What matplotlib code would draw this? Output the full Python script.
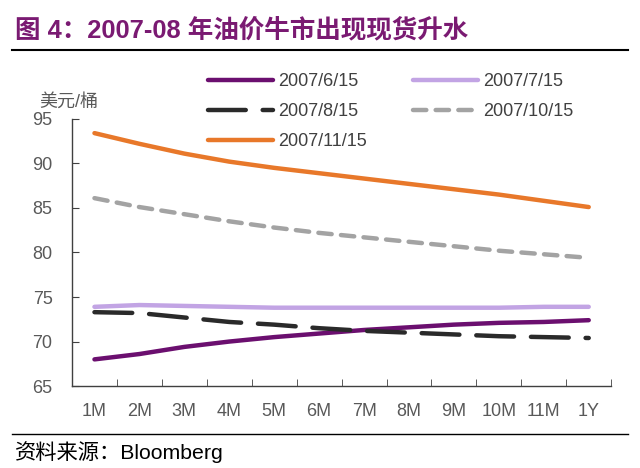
import matplotlib
matplotlib.use("Agg")
import matplotlib.pyplot as plt
from matplotlib.lines import Line2D

plt.rcParams['font.family'] = ['Liberation Sans', 'Noto Sans CJK SC', 'DejaVu Sans']

categories = ["1M", "2M", "3M", "4M", "5M", "6M", "7M", "8M", "9M", "10M", "11M", "1Y"]
s_0615 = [68.0, 68.6, 69.4, 70.0, 70.5, 70.9, 71.3, 71.6, 71.9, 72.1, 72.2, 72.4]
s_0715 = [73.9, 74.1, 74.0, 73.9, 73.8, 73.8, 73.8, 73.8, 73.8, 73.8, 73.9, 73.9]
s_0815 = [73.3, 73.2, 72.7, 72.2, 71.9, 71.5, 71.2, 71.0, 70.8, 70.6, 70.5, 70.4]
s_1015 = [86.1, 85.1, 84.3, 83.5, 82.8, 82.2, 81.7, 81.2, 80.7, 80.2, 79.8, 79.4]
s_1115 = [93.4, 92.2, 91.1, 90.2, 89.5, 88.9, 88.3, 87.7, 87.1, 86.5, 85.8, 85.1]
labels = ["2007/6/15", "2007/7/15", "2007/8/15", "2007/10/15", "2007/11/15"]

fig = plt.figure(figsize=(6.4, 4.68), dpi=100)
ax = fig.add_axes([0.1125, 0.175, 0.955 - 0.1125, 0.746 - 0.175])

x = list(range(len(categories)))
lw = 3.2
l1, = ax.plot(x, s_0615, color="#6B0F6F", lw=lw, solid_capstyle="round")
l2, = ax.plot(x, s_0715, color="#C2A4E4", lw=lw, solid_capstyle="round")
l3, = ax.plot(x, s_0815, color="#2A2A2A", lw=lw, dashes=(8.5, 3.8), dash_capstyle="round")
l4, = ax.plot(x, s_1015, color="#A3A3A3", lw=lw, dashes=(3.0, 2.1), dash_capstyle="round")
l5, = ax.plot(x, s_1115, color="#E8782A", lw=lw, solid_capstyle="round")

ax.set_xlim(-0.5, len(categories) - 0.5)
ax.set_ylim(65, 95)
ax.set_yticks(range(65, 96, 5))
ax.set_xticks(x)
ax.set_xticklabels(categories)
ax.set_xticks([i + 0.5 for i in x], minor=True)
ax.tick_params(axis="x", which="major", length=0, pad=12, labelsize=13, labelcolor="#595959")
ax.tick_params(axis="x", which="minor", direction="in", length=5, color="#404040")
ax.tick_params(axis="y", direction="in", length=5, color="#404040", pad=14, labelsize=13, labelcolor="#595959")
for s in ["top", "right"]:
    ax.spines[s].set_visible(False)
for s in ["left", "bottom"]:
    ax.spines[s].set_color("#404040")
    ax.spines[s].set_linewidth(1.0)

handles = [l1, l3, l5, l2, l4]
hl = [labels[0], labels[2], labels[4], labels[1], labels[3]]
leg = fig.legend(handles, hl, ncol=2, frameon=False,
                 loc="upper left", bbox_to_anchor=(0.305, 0.870),
                 fontsize=13, handlelength=3.6, handletextpad=0.28,
                 columnspacing=2.55, labelspacing=0.72, labelcolor="#404040",
                 borderpad=0.2)

fig.text(0.061, 0.782, "美元/桶", fontsize=13, color="#595959", va="center")

fig.text(0.023, 0.935, "图 4：2007-08 年油价牛市出现现货升水", fontsize=18.4,
         fontweight="bold", color="#7A1A72", va="center")
fig.add_artist(Line2D([0.019, 0.981], [0.893, 0.893], color="black", lw=1.5))
fig.add_artist(Line2D([0.019, 0.981], [0.073, 0.073], color="black", lw=1.0))
fig.text(0.023, 0.034, "资料来源：Bloomberg", fontsize=15.3, color="black", va="center")

fig.savefig("out.png", dpi=100)
